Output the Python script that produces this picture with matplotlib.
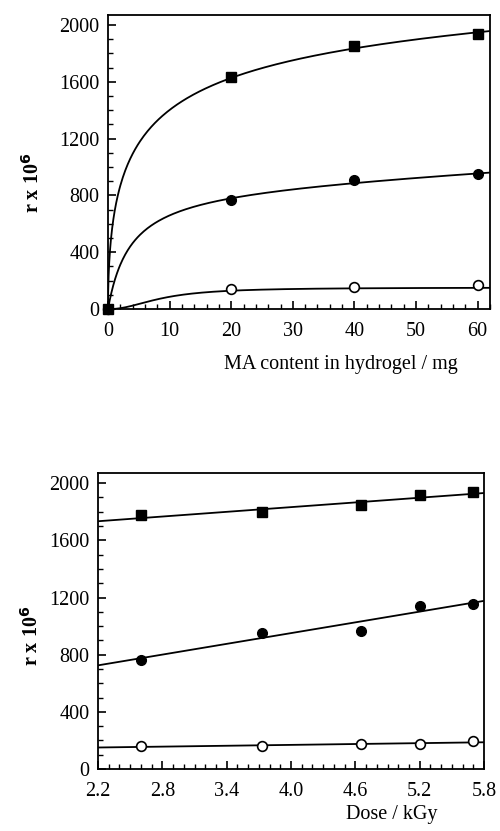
import numpy as np
import matplotlib.pyplot as plt
from matplotlib.ticker import MultipleLocator

plt.rcParams['font.family'] = ['Liberation Serif', 'DejaVu Serif']

# top panel: r vs MA content (data points)
ma_x = [0, 20, 40, 60]
ma_sq = [0, 1630, 1855, 1935]
ma_fc = [0, 769, 909, 951]
ma_oc = [0, 140, 154, 168]

# points on the drawn trend curves of the top panel
cur_sq_x = [0.15, 0.35, 0.6, 1.0, 1.5, 2.2, 3.5, 5.5, 8, 10.6, 15, 20, 25, 31, 40, 48, 56, 62]
cur_sq_y = [250, 420, 540, 690, 800, 920, 1050, 1180, 1310, 1400, 1520, 1620, 1715, 1790, 1855, 1895, 1920, 1935]
cur_fc_x = [0.5, 1.1, 1.9, 2.8, 4.5, 7, 10, 13, 16.5, 20, 23, 31, 40, 47, 55, 62]
cur_fc_y = [100, 200, 300, 400, 500, 590, 660, 705, 740, 760, 783, 870, 905, 925, 938, 944]
cur_oc_x = [5, 10, 15, 20, 25, 40, 62]
cur_oc_y = [40, 80, 115, 135, 140, 142, 150]

# bottom panel: r vs dose
dose = [2.6, 3.73, 4.65, 5.2, 5.7]
dose_sq = [1775, 1795, 1845, 1915, 1935]
dose_fc = [766, 955, 969, 1143, 1157]
dose_oc = [160, 160, 174, 174, 195]


def hill_fit(x, y):
    # y = a * x^n / (b^n + x^n) + c * x with a > 0, c >= 0; grid over n and b
    x = np.asarray(x, float)
    y = np.asarray(y, float)
    best = None
    for n in np.linspace(0.3, 3.0, 55):
        for b in np.logspace(-1.5, 2, 120):
            f = x**n / (b**n + x**n)
            A = np.column_stack([f, x])
            coef, *_ = np.linalg.lstsq(A, y, rcond=None)
            if coef[0] <= 0 or coef[1] < 0:
                coef = np.array([(f @ y) / (f @ f), 0.0])
            err = ((A @ coef - y)**2).sum()
            if best is None or err < best[0]:
                best = (err, coef[0], coef[1], n, b)
    _, a, c, n, b = best
    return lambda t: a * t**n / (b**n + t**n) + c * t


fig = plt.figure(figsize=(5, 8.31), dpi=100)
ax1 = fig.add_axes([0.216, 0.628, 0.764, 0.354])
ax2 = fig.add_axes([0.196, 0.0746, 0.772, 0.356])

lw = 1.3
fs = 14.5
t = np.concatenate([np.linspace(0, 2, 200), np.linspace(2, 62, 300)])
for cx, cy in ((cur_oc_x, cur_oc_y), (cur_fc_x, cur_fc_y), (cur_sq_x, cur_sq_y)):
    f = hill_fit(cx, cy)
    ax1.plot(t, f(t), color='black', lw=lw)
ax1.plot(ma_x, ma_oc, 'o', ms=7, mfc='white', mec='black', mew=1.2, clip_on=False, zorder=3)
ax1.plot(ma_x, ma_fc, 'o', ms=7, color='black', clip_on=False, zorder=3)
ax1.plot(ma_x, ma_sq, 's', ms=7.5, color='black', clip_on=False, zorder=4)
ax1.set_xlim(0, 62)
ax1.set_ylim(0, 2070)
ax1.xaxis.set_major_locator(MultipleLocator(10))
ax1.xaxis.set_minor_locator(MultipleLocator(2))
ax1.set_xlabel('MA content in hydrogel / mg', fontsize=fs)

# linear fits in the bottom panel
xs = np.array([2.2, 5.8])
for ys in (dose_sq, dose_fc, dose_oc):
    k, b = np.polyfit(dose, ys, 1)
    ax2.plot(xs, k * xs + b, color='black', lw=lw)
ax2.plot(dose, dose_oc, 'o', ms=7, mfc='white', mec='black', mew=1.2, zorder=3)
ax2.plot(dose, dose_fc, 'o', ms=7, color='black', zorder=3)
ax2.plot(dose, dose_sq, 's', ms=7.5, color='black', zorder=4)
ax2.set_xlim(2.2, 5.8)
ax2.set_ylim(0, 2070)
ax2.set_xticks([2.2, 2.8, 3.4, 4.0, 4.6, 5.2, 5.8])
ax2.set_xticklabels(['2.2', '2.8', '3.4', '4.0', '4.6', '5.2', '5.8'])
ax2.xaxis.set_minor_locator(MultipleLocator(0.1))
ax2.set_xlabel('Dose / kGy', fontsize=fs)

for ax in (ax1, ax2):
    ax.yaxis.set_major_locator(MultipleLocator(400))
    ax.yaxis.set_minor_locator(MultipleLocator(100))
    ax.tick_params(which='both', direction='in', top=False, right=False, labelsize=fs)
    ax.tick_params(axis='x', which='major', pad=9)
    ax.tick_params(axis='y', which='major', pad=6)
    ax.tick_params(which='major', length=6, width=1.2)
    ax.tick_params(which='minor', length=3.5, width=1)
    for s in ax.spines.values():
        s.set_linewidth(1.3)
    ax.set_ylabel(r'r x 10$^{\mathbf{6}}$', fontsize=fs, fontweight='bold')
    # nudge the "0" y label down like the reference
    ax.get_yticklabels()[0].set_va('top')

ax1.xaxis.set_label_coords(0.61, -0.155)
ax1.yaxis.set_label_coords(-0.167, 0.43)
ax2.xaxis.set_label_coords(0.76, -0.12)
ax2.yaxis.set_label_coords(-0.142, 0.45)

fig.savefig('out.png', dpi=100)
